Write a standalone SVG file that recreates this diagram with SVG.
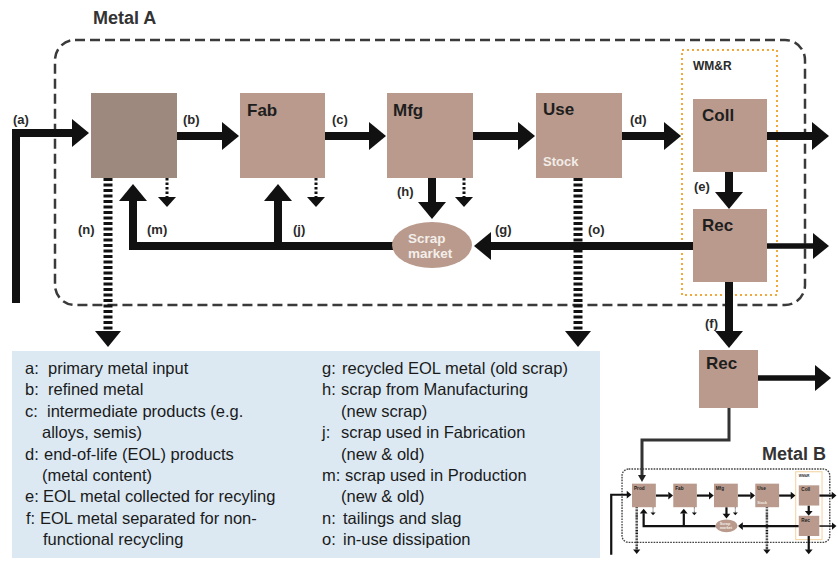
<svg xmlns="http://www.w3.org/2000/svg" width="838" height="561" viewBox="0 0 838 561">
<defs>
<style>
.bnd{fill:none;stroke:#3a3a3a;stroke-width:2.5;stroke-dasharray:10 5}
.wmr{fill:none;stroke:#f2a93b;stroke-width:2;stroke-dasharray:2 3}
.bx{fill:#b99a8c}
.bxd{fill:#9d897d}
.nt{font-family:"Liberation Sans",Arial,sans-serif;font-weight:bold;font-size:17px;fill:#1e1e1e}
.st{font-family:"Liberation Sans",Arial,sans-serif;font-weight:bold;font-size:13px;fill:#f2ece8}
.sm{font-family:"Liberation Sans",Arial,sans-serif;font-weight:bold;font-size:13.5px;fill:#f4eeea}
.wt{font-family:"Liberation Sans",Arial,sans-serif;font-weight:bold;font-size:12px;fill:#2a2a2a}
.lbl{font-family:"Liberation Sans",Arial,sans-serif;font-weight:bold;font-size:13px;fill:#2a2a2a}
.ttl{font-family:"Liberation Sans",Arial,sans-serif;font-weight:bold;font-size:18px;fill:#333}
.th{fill:none;stroke:#111;stroke-width:8}
.tm{fill:none;stroke:#111;stroke-width:5.5}
.dt{fill:none;stroke:#111;stroke-width:9;stroke-dasharray:3 2.5}
.ds{fill:none;stroke:#111;stroke-width:3;stroke-dasharray:2.5 2}
.ln{fill:none;stroke:#333;stroke-width:3}
.lg{font-family:"Liberation Sans",Arial,sans-serif;font-size:16.5px;fill:#1a1a1a}
</style>
<marker id="ah" markerUnits="userSpaceOnUse" markerWidth="18" markerHeight="28" refX="1" refY="14" orient="auto" overflow="visible"><path d="M0,0 L17,14 L0,28 z" fill="#111"/></marker>
<marker id="am" markerUnits="userSpaceOnUse" markerWidth="17" markerHeight="26" refX="1" refY="13" orient="auto" overflow="visible"><path d="M0,0 L16,13 L0,26 z" fill="#111"/></marker>
<marker id="as" markerUnits="userSpaceOnUse" markerWidth="10" markerHeight="18" refX="1" refY="9" orient="auto" overflow="visible"><path d="M0,0 L10,9 L0,18 z" fill="#111"/></marker>
<marker id="at" markerUnits="userSpaceOnUse" markerWidth="8" markerHeight="8" refX="1" refY="4" orient="auto" overflow="visible"><path d="M0,0 L7,4 L0,8 z" fill="#222"/></marker>
</defs>

<text class="ttl" x="93" y="24">Metal A</text>

<g id="boundary-a"><rect class="bnd" x="55" y="40" width="750" height="265" rx="20"/></g>
<g id="wmr"><rect class="wmr" x="682" y="50" width="95" height="245"/><text class="wt" x="693" y="70">WM&amp;R</text></g>

<g id="connectors">
<path class="th" d="M16,303 V133 H73" marker-end="url(#ah)"/>
<path class="th" d="M177,136 H223" marker-end="url(#ah)"/>
<path class="th" d="M325,136 H370" marker-end="url(#ah)"/>
<path class="th" d="M473,136 H519" marker-end="url(#ah)"/>
<path class="th" d="M622,136 H665" marker-end="url(#ah)"/>
<path class="th" d="M767,136 H813" marker-end="url(#ah)"/>
<path class="tm" d="M767,246 H814" marker-end="url(#am)"/>
<path class="th" d="M729,172 V193" marker-end="url(#ah)"/>
<path class="th" d="M693,246 H490" marker-end="url(#ah)"/>
<path class="th" d="M432,178 V203" marker-end="url(#ah)"/>
<path class="th" d="M393,246 H133 V200" marker-end="url(#ah)"/>
<path class="th" d="M278,246 V200" marker-end="url(#ah)"/>
<path class="th" d="M729,282 V332" marker-end="url(#ah)"/>
<path class="tm" d="M758,378 H816" marker-end="url(#am)"/>
<path class="dt" d="M108,178 V332" marker-end="url(#am)"/>
<path class="dt" d="M578,178 V332" marker-end="url(#am)"/>
<path class="ds" d="M167,178 V198" marker-end="url(#as)"/>
<path class="ds" d="M316,178 V198" marker-end="url(#as)"/>
<path class="ds" d="M464,178 V198" marker-end="url(#as)"/>
<path class="ln" d="M729,408 V440 H642 V476" marker-end="url(#at)"/>
<text class="lbl" x="13" y="124">(a)</text>
<text class="lbl" x="183" y="124">(b)</text>
<text class="lbl" x="332" y="124">(c)</text>
<text class="lbl" x="630" y="124">(d)</text>
<text class="lbl" x="694" y="191">(e)</text>
<text class="lbl" x="397" y="196">(h)</text>
<text class="lbl" x="78" y="234">(n)</text>
<text class="lbl" x="147" y="234">(m)</text>
<text class="lbl" x="293" y="234">(j)</text>
<text class="lbl" x="495" y="234">(g)</text>
<text class="lbl" x="588" y="234">(o)</text>
<text class="lbl" x="705" y="328">(f)</text>
</g>

<g id="prod"><rect class="bxd" x="91" y="93" width="86" height="85"/></g>
<g id="fab"><rect class="bx" x="240" y="93" width="85" height="85"/><text class="nt" x="247" y="116">Fab</text></g>
<g id="mfg"><rect class="bx" x="387" y="93" width="86" height="85"/><text class="nt" x="393" y="116">Mfg</text></g>
<g id="use"><rect class="bx" x="536" y="93" width="86" height="85"/><text class="nt" x="543" y="115">Use</text><text class="st" x="543" y="166">Stock</text></g>
<g id="coll"><rect class="bx" x="693" y="99" width="74" height="73"/><text class="nt" x="702" y="121">Coll</text></g>
<g id="rec"><rect class="bx" x="693" y="209" width="74" height="73"/><text class="nt" x="702" y="231">Rec</text></g>
<g id="scrap"><ellipse class="bx" cx="432" cy="245" rx="40" ry="23"/><text class="sm" x="408" y="243">Scrap</text><text class="sm" x="408" y="258">market</text></g>
<g id="rec2"><rect class="bx" x="699" y="350" width="59" height="58"/><text class="nt" x="706" y="369">Rec</text></g>

<g id="legend">
<rect x="12" y="351" width="588" height="207" fill="#dce9f3"/>
<text class="lg" x="25" y="374">a:<tspan x="48">primary metal input</tspan></text>
<text class="lg" x="25" y="395.4">b:<tspan x="48">refined metal</tspan></text>
<text class="lg" x="25" y="416.8">c:<tspan x="47">intermediate products (e.g.</tspan></text>
<text class="lg" x="42" y="438.2">alloys, semis)</text>
<text class="lg" x="25" y="459.6">d:<tspan x="44">end-of-life (EOL) products</tspan></text>
<text class="lg" x="42" y="481">(metal content)</text>
<text class="lg" x="25" y="502.4">e:<tspan x="43">EOL metal collected for recyling</tspan></text>
<text class="lg" x="26" y="523.8">f:<tspan x="40">EOL metal separated for non-</tspan></text>
<text class="lg" x="43" y="545.2">functional recycling</text>
<text class="lg" x="322" y="374">g:<tspan x="342">recycled EOL metal (old scrap)</tspan></text>
<text class="lg" x="322" y="395.4">h:<tspan x="341">scrap from Manufacturing</tspan></text>
<text class="lg" x="341" y="416.8">(new scrap)</text>
<text class="lg" x="322" y="438.2">j:<tspan x="341">scrap used in Fabrication</tspan></text>
<text class="lg" x="341" y="459.6">(new &amp; old)</text>
<text class="lg" x="322" y="481">m:<tspan x="345">scrap used in Production</tspan></text>
<text class="lg" x="341" y="502.4">(new &amp; old)</text>
<text class="lg" x="322" y="523.8">n:<tspan x="343">tailings and slag</tspan></text>
<text class="lg" x="322" y="545.2">o:<tspan x="343">in-use dissipation</tspan></text>
</g>

<text class="ttl" x="762" y="460">Metal B</text>
<g id="metal-b" transform="translate(606.8,457.9) scale(0.277)">
<rect x="55" y="40" width="750" height="265" rx="24" fill="none" stroke="#444" stroke-width="5" stroke-dasharray="6 4"/>
<rect x="682" y="50" width="95" height="245" fill="none" stroke="#f3d7a6" stroke-width="4"/>
<text class="wt" x="693" y="70">WM&amp;R</text>
<path class="th" d="M16,350 V133 H73" marker-end="url(#ah)"/>
<path class="th" d="M177,136 H223" marker-end="url(#ah)"/>
<path class="th" d="M325,136 H370" marker-end="url(#ah)"/>
<path class="th" d="M473,136 H519" marker-end="url(#ah)"/>
<path class="th" d="M622,136 H665" marker-end="url(#ah)"/>
<path class="th" d="M767,136 H813" marker-end="url(#ah)"/>
<path class="tm" d="M767,246 H814" marker-end="url(#am)"/>
<path class="th" d="M729,172 V193" marker-end="url(#ah)"/>
<path class="th" d="M693,246 H490" marker-end="url(#ah)"/>
<path class="th" d="M432,178 V203" marker-end="url(#ah)"/>
<path class="th" d="M393,246 H133 V200" marker-end="url(#ah)"/>
<path class="th" d="M278,246 V200" marker-end="url(#ah)"/>
<path class="th" d="M729,282 V332" marker-end="url(#ah)"/>
<path class="dt" d="M108,178 V332" marker-end="url(#am)"/>
<path class="dt" d="M578,178 V332" marker-end="url(#am)"/>
<path class="ds" d="M167,178 V198" marker-end="url(#as)"/>
<path class="ds" d="M316,178 V198" marker-end="url(#as)"/>
<path class="ds" d="M464,178 V198" marker-end="url(#as)"/>
<rect class="bx" x="91" y="93" width="86" height="85"/><text class="nt" x="98" y="116">Prod</text>
<rect class="bx" x="240" y="93" width="85" height="85"/><text class="nt" x="247" y="116">Fab</text>
<rect class="bx" x="387" y="93" width="86" height="85"/><text class="nt" x="393" y="116">Mfg</text>
<rect class="bx" x="536" y="93" width="86" height="85"/><text class="nt" x="543" y="115">Use</text><text class="st" x="543" y="166">Stock</text>
<rect class="bx" x="693" y="99" width="74" height="73"/><text class="nt" x="702" y="121">Coll</text>
<rect class="bx" x="693" y="209" width="74" height="73"/><text class="nt" x="702" y="231">Rec</text>
<ellipse class="bx" cx="432" cy="245" rx="40" ry="23"/><text class="sm" x="408" y="243">Scrap</text><text class="sm" x="408" y="258">market</text>
</g>
</svg>
